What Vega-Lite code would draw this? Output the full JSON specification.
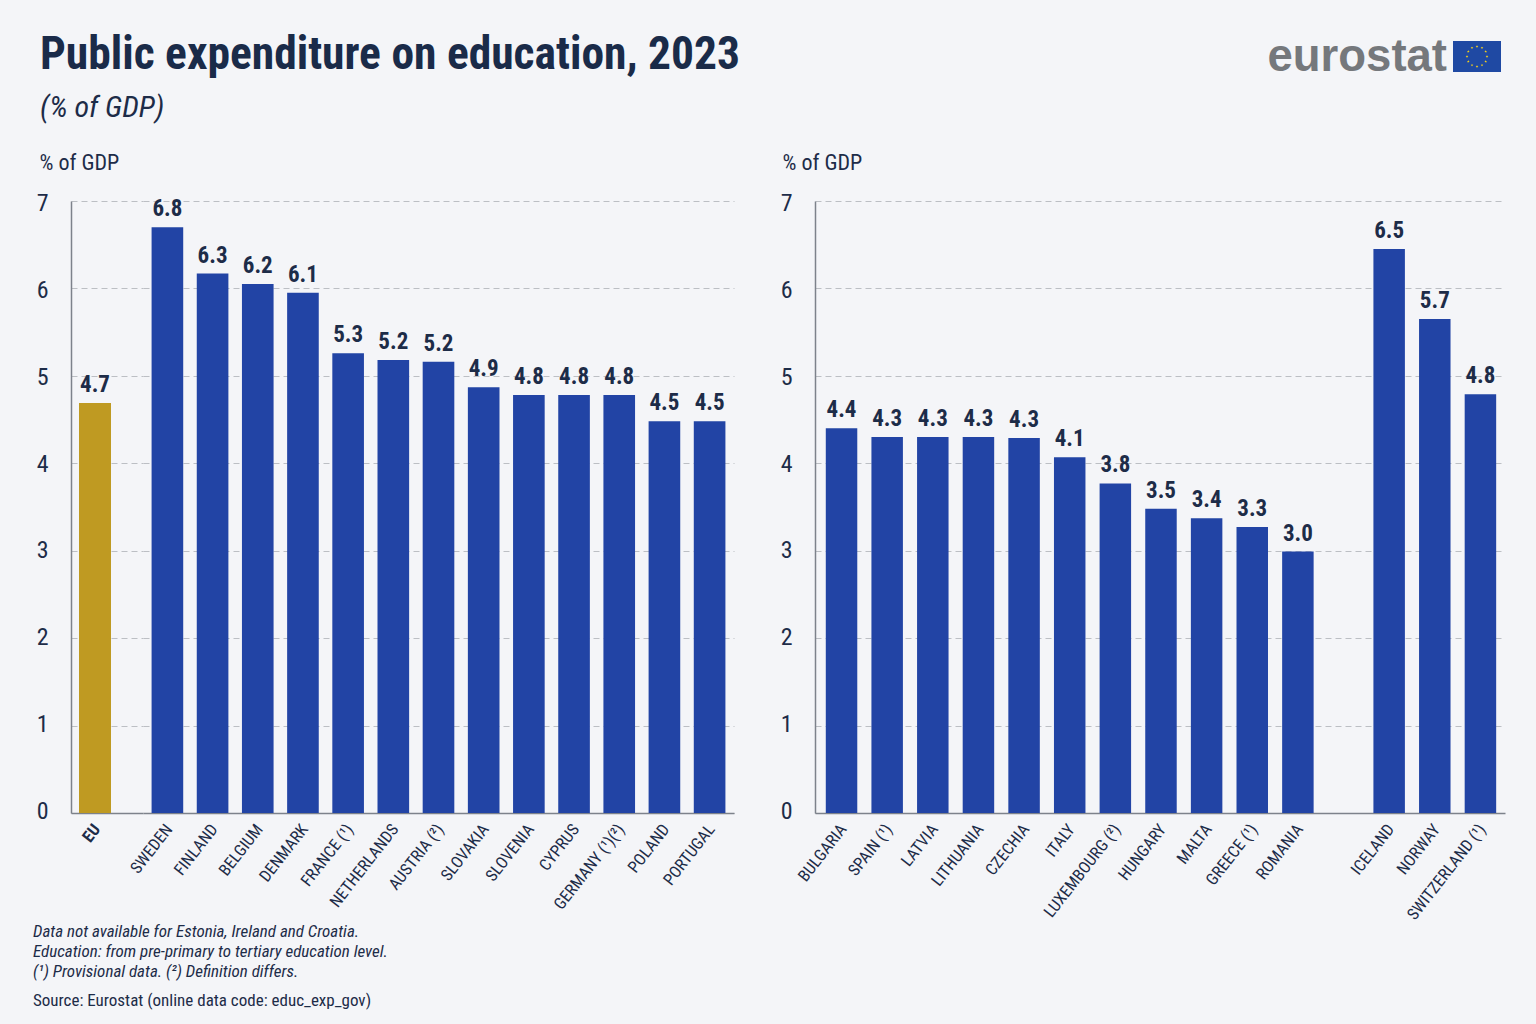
{"$schema":"https://vega.github.io/schema/vega-lite/v6.json","background":"#f4f5f8","padding":{"left":33,"top":32,"right":31,"bottom":16},"bounds":"flush","columns":4,"spacing":{"row":30,"column":0},
"config":{"view":{"stroke":null},"font":"Roboto Condensed",
"axisX":{"title":null,"ticks":false,"grid":false,"domainColor":"#7d828b","domainWidth":1.5,"labelAngle":-52,"labelAlign":"right","labelBaseline":"middle","labelFontSize":16.5,"labelColor":"#1d2c48","labelPadding":13,"labelOffset":2,"labelOverlap":false,"labelFont":"Roboto Condensed","labelLimit":200},
"axisY":{"ticks":false,"grid":true,"gridColor":"#bcbfc4","gridDash":[6,4],"gridWidth":1,"domainColor":"#7d828b","domainWidth":1.5,"labelFontSize":24,"labelColor":"#1d2c48","labelPadding":23,"labelFont":"Roboto Condensed","titleFont":"Roboto Condensed","titleFontWeight":"normal","titleFontSize":22,"titleColor":"#1d2c48","titleAngle":0,"titleAlign":"left","titleBaseline":"middle"},
"text":{"font":"Roboto Condensed","fontWeight":"bold","fontSize":23,"color":"#1d2c48","baseline":"bottom","dy":-6}},
"datasets":{
"eu":[{"country":"EU","value":4.69,"label":"4.7"}],
"left":[{"country":"SWEDEN","value":6.7,"label":"6.8"},{"country":"FINLAND","value":6.17,"label":"6.3"},{"country":"BELGIUM","value":6.05,"label":"6.2"},{"country":"DENMARK","value":5.95,"label":"6.1"},{"country":"FRANCE (¹)","value":5.26,"label":"5.3"},{"country":"NETHERLANDS","value":5.18,"label":"5.2"},{"country":"AUSTRIA (²)","value":5.16,"label":"5.2"},{"country":"SLOVAKIA","value":4.87,"label":"4.9"},{"country":"SLOVENIA","value":4.78,"label":"4.8"},{"country":"CYPRUS","value":4.78,"label":"4.8"},{"country":"GERMANY (¹)(²)","value":4.78,"label":"4.8"},{"country":"POLAND","value":4.48,"label":"4.5"},{"country":"PORTUGAL","value":4.48,"label":"4.5"}],
"right":[{"country":"BULGARIA","value":4.4,"label":"4.4"},{"country":"SPAIN (¹)","value":4.3,"label":"4.3"},{"country":"LATVIA","value":4.3,"label":"4.3"},{"country":"LITHUANIA","value":4.3,"label":"4.3"},{"country":"CZECHIA","value":4.29,"label":"4.3"},{"country":"ITALY","value":4.07,"label":"4.1"},{"country":"LUXEMBOURG (²)","value":3.77,"label":"3.8"},{"country":"HUNGARY","value":3.48,"label":"3.5"},{"country":"MALTA","value":3.37,"label":"3.4"},{"country":"GREECE (¹)","value":3.27,"label":"3.3"},{"country":"ROMANIA","value":2.99,"label":"3.0"},{"country":"ICELAND","value":6.45,"label":"6.5"},{"country":"NORWAY","value":5.65,"label":"5.7"},{"country":"SWITZERLAND (¹)","value":4.79,"label":"4.8"}],
"flag":[{"x0":638,"x1":686,"y0":-15.5,"y1":15.5}],
"stars":[{"sx":662,"sy":10},{"sx":667,"sy":8.7},{"sx":670.7,"sy":5},{"sx":672,"sy":0},{"sx":670.7,"sy":-5},{"sx":667,"sy":-8.7},{"sx":662,"sy":-10},{"sx":657,"sy":-8.7},{"sx":653.3,"sy":-5},{"sx":652,"sy":0},{"sx":653.3,"sy":5},{"sx":657,"sy":8.7}]},
"concat":[
{"width":72,"height":130,"data":{"values":[]},"mark":"rect","encoding":{},
"title":{"text":"Public expenditure on education, 2023","subtitle":"(% of GDP)","orient":"top","anchor":"start","frame":"group","offset":-82,"dx":-31,"font":"Roboto Condensed","fontSize":45.5,"fontWeight":"bold","color":"#1a2b49","subtitleFont":"Roboto Condensed","subtitleFontSize":30,"subtitleFontWeight":"normal","subtitleFontStyle":"italic","subtitleColor":"#1d2c48","subtitlePadding":15}},
{"width":591,"height":1,"data":{"values":[]},"mark":"rect","encoding":{}},
{"width":81,"height":1,"data":{"values":[]},"mark":"rect","encoding":{}},
{"width":690,"height":31,
"title":{"text":"eurostat","orient":"top","anchor":"end","frame":"group","dx":-58,"offset":-75,"baseline":"alphabetic","font":"Liberation Sans","fontSize":45.5,"fontWeight":"bold","color":"#75787c"},
"layer":[
{"data":{"name":"flag"},"mark":{"type":"rect","color":"#1f49a3"},"encoding":{"x":{"field":"x0","type":"quantitative","axis":null,"scale":{"domain":[0,690],"nice":false,"zero":false}},"x2":{"field":"x1"},"y":{"field":"y0","type":"quantitative","axis":null,"scale":{"domain":[-15.5,15.5],"nice":false,"zero":false}},"y2":{"field":"y1"}}},
{"data":{"name":"stars"},"mark":{"type":"point","filled":true,"shape":"M0,-1L0.22,-0.31L0.95,-0.31L0.36,0.12L0.59,0.81L0,0.38L-0.59,0.81L-0.36,0.12L-0.95,-0.31L-0.22,-0.31Z","size":8,"color":"#ffd617","opacity":1},"encoding":{"x":{"field":"sx","type":"quantitative","axis":null,"scale":{"domain":[0,690],"nice":false,"zero":false}},"y":{"field":"sy","type":"quantitative","axis":null,"scale":{"domain":[-15.5,15.5],"nice":false,"zero":false}}}}
]},
{"width":72,"height":612,"data":{"name":"eu"},
"encoding":{"x":{"field":"country","type":"nominal","sort":null,"axis":{"labelFontWeight":"bold"},"scale":{"domain":["EU"],"paddingInner":0.3,"paddingOuter":0.4375,"align":0.2}},"y":{"field":"value","type":"quantitative","axis":{"title":"% of GDP","titleX":-32,"titleY":-39,"values":[0,1,2,3,4,5,6,7],"labelOffset":{"expr":"0.7*datum.value-2"}},"scale":{"domain":[0,7],"nice":false}}},
"layer":[{"mark":{"type":"bar","color":"#bf9a22"}},{"mark":{"type":"text"},"encoding":{"text":{"field":"label"}}}]},
{"width":591,"height":612,"data":{"name":"left"},
"encoding":{"x":{"field":"country","type":"nominal","sort":null,"scale":{"domain":["SWEDEN","FINLAND","BELGIUM","DENMARK","FRANCE (¹)","NETHERLANDS","AUSTRIA (²)","SLOVAKIA","SLOVENIA","CYPRUS","GERMANY (¹)(²)","POLAND","PORTUGAL"],"paddingInner":0.3,"paddingOuter":0.19}},"y":{"field":"value","type":"quantitative","axis":{"title":null,"domain":false,"labels":false,"values":[0,1,2,3,4,5,6,7]},"scale":{"domain":[0,7],"nice":false}}},
"layer":[{"mark":{"type":"bar","color":"#2244a5"}},{"mark":{"type":"text"},"encoding":{"text":{"field":"label"}}}]},
{"width":81,"height":1,"data":{"values":[]},"mark":"rect","encoding":{}},
{"width":690,"height":612,"data":{"name":"right"},
"encoding":{"x":{"field":"country","type":"nominal","sort":null,"scale":{"domain":["BULGARIA","SPAIN (¹)","LATVIA","LITHUANIA","CZECHIA","ITALY","LUXEMBOURG (²)","HUNGARY","MALTA","GREECE (¹)","ROMANIA"," ","ICELAND","NORWAY","SWITZERLAND (¹)"],"paddingInner":0.31,"paddingOuter":0.215,"align":0.55}},"y":{"field":"value","type":"quantitative","axis":{"title":"% of GDP","titleX":-33,"titleY":-39,"values":[0,1,2,3,4,5,6,7],"labelOffset":{"expr":"0.7*datum.value-2"}},"scale":{"domain":[0,7],"nice":false}}},
"layer":[{"mark":{"type":"bar","color":"#2244a5"}},{"mark":{"type":"text"},"encoding":{"text":{"field":"label"}}}]},
{"width":72,"height":10,"data":{"values":[]},"mark":"rect","encoding":{},
"title":{"text":["Data not available for Estonia, Ireland and Croatia.","Education: from pre-primary to tertiary education level.","(¹) Provisional data. (²) Definition differs."],"subtitle":"Source: Eurostat (online data code: educ_exp_gov)","orient":"top","anchor":"start","frame":"group","offset":-167,"dx":-38,"font":"Roboto Condensed","fontSize":17,"fontStyle":"italic","fontWeight":"normal","lineHeight":20,"color":"#1d2c48","subtitleFont":"Roboto Condensed","subtitleFontSize":17,"subtitleColor":"#1d2c48","subtitlePadding":12}}
]}
